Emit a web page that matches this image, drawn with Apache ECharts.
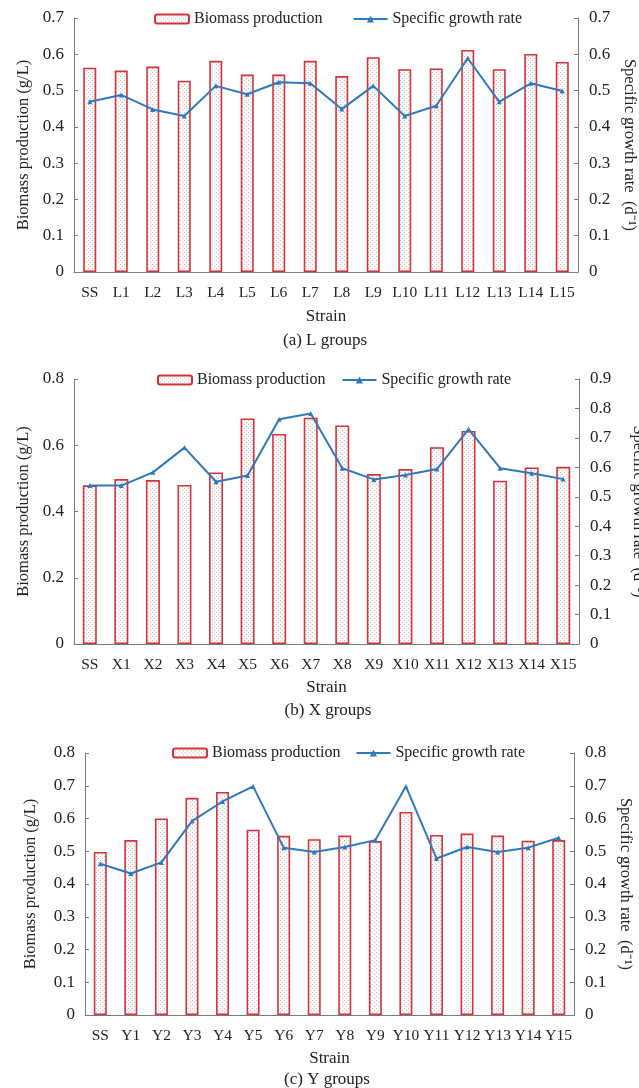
<!DOCTYPE html>
<html>
<head>
<meta charset="utf-8">
<script src="https://cdn.jsdelivr.net/npm/echarts@6/dist/echarts.min.js"></script>
<style>
html,body{margin:0;padding:0;background:#fff;}
#main{width:639px;height:1088px;}
</style>
</head>
<body>
<div id="main"></div>
<script>
const catsA = ['SS','L1','L2','L3','L4','L5','L6','L7','L8','L9','L10','L11','L12','L13','L14','L15'];
const catsB = ['SS','X1','X2','X3','X4','X5','X6','X7','X8','X9','X10','X11','X12','X13','X14','X15'];
const catsC = ['SS','Y1','Y2','Y3','Y4','Y5','Y6','Y7','Y8','Y9','Y10','Y11','Y12','Y13','Y14','Y15'];

const bioA = [0.563,0.555,0.566,0.527,0.582,0.544,0.544,0.582,0.540,0.592,0.559,0.561,0.612,0.559,0.601,0.579];
const rateA = [0.469,0.488,0.448,0.430,0.513,0.490,0.523,0.520,0.449,0.513,0.430,0.458,0.589,0.469,0.520,0.499];
const bioB = [0.479,0.498,0.495,0.480,0.518,0.681,0.634,0.683,0.660,0.513,0.528,0.594,0.643,0.493,0.533,0.535];
const rateB = [0.538,0.538,0.583,0.667,0.551,0.572,0.763,0.783,0.597,0.559,0.574,0.594,0.730,0.597,0.580,0.560];
const bioC = [0.498,0.534,0.600,0.663,0.681,0.566,0.547,0.537,0.548,0.531,0.620,0.550,0.554,0.548,0.532,0.534];
const rateC = [0.462,0.432,0.466,0.592,0.652,0.698,0.511,0.498,0.513,0.534,0.698,0.478,0.513,0.498,0.511,0.541];

const leftMax = [0.7, 0.8, 0.8];
const leftInterval = [0.1, 0.2, 0.1];
const rightMax = [0.7, 0.9, 0.8];
const rightInterval = [0.1, 0.1, 0.1];
const captions = ['(a) L groups', '(b) X groups', '(c) Y groups'];
const bioName = 'Biomass production';
const rateName = 'Specific growth rate';
const leftAxisName = 'Biomass production (g/L)';
const rightAxisName = 'Specific growth rate\u2002(d\u207B\u00B9)';
const xAxisName = 'Strain';

const FONT = '"Liberation Serif", "Times New Roman", serif';
const AX = '#7a7a7a';
const TXT = '#222';
const RED = '#d2343b';
const BLUE = '#3078bb';

function makePattern(){
  const c = document.createElement('canvas');
  c.width = 4; c.height = 4;
  const g = c.getContext('2d');
  g.fillStyle = '#fdf9f9'; g.fillRect(0,0,4,4);
  g.fillStyle = '#c4c4c4';
  g.fillRect(0,0,1,1); g.fillRect(2,2,1,1);
  return c;
}
const pattern = {image: makePattern(), repeat: 'repeat'};

const panels = [
  {cats: catsA, bio: bioA, rate: rateA, grid: {left:74, right:61, top:18, height:254}, barW:13, legendLeft:154, legendTop:11, legendGap:30, lname:38, rname:42, cap:[325,341], xgap:36},
  {cats: catsB, bio: bioB, rate: rateB, grid: {left:74, right:60, top:379, height:265}, barW:14, legendLeft:157, legendTop:372, legendGap:16, lname:38, rname:51, cap:[328,711], xgap:35},
  {cats: catsC, bio: bioC, rate: rateC, grid: {left:85, right:65, top:753, height:262}, barW:13, legendLeft:172, legendTop:745, legendGap:15, lname:46, rname:43, cap:[327,1080], xgap:35}
];

const grids=[], xAxes=[], yAxes=[], series=[], legends=[], graphics=[];
panels.forEach((p,i)=>{
  grids.push(Object.assign({containLabel:false, outerBoundsMode:'none'}, p.grid));
  xAxes.push({
    type:'category', gridIndex:i, data:p.cats, boundaryGap:true,
    name:xAxisName, nameLocation:'middle', nameGap:p.xgap,
    nameTextStyle:{fontFamily:FONT, fontSize:17, color:TXT},
    axisLine:{lineStyle:{color:AX, width:1}},
    axisTick:{inside:true, length:4, lineStyle:{color:AX}},
    axisLabel:{fontFamily:FONT, fontSize:15.5, color:TXT, margin:13, interval:0},
    splitLine:{show:false}
  });
  yAxes.push({
    type:'value', gridIndex:i, position:'left', min:0, max:leftMax[i], interval:leftInterval[i],
    name:leftAxisName, nameLocation:'middle', nameGap:p.lname,
    nameTextStyle:{fontFamily:FONT, fontSize:16.5, color:TXT},
    axisLine:{show:true, lineStyle:{color:AX, width:1}},
    axisTick:{show:true, inside:true, length:4, lineStyle:{color:AX}},
    axisLabel:{fontFamily:FONT, fontSize:17, color:TXT, margin:10},
    splitLine:{show:false}
  });
  yAxes.push({
    type:'value', gridIndex:i, position:'right', min:0, max:rightMax[i], interval:rightInterval[i],
    name:rightAxisName, nameLocation:'middle', nameGap:p.rname, nameRotate:-90,
    nameTextStyle:{fontFamily:FONT, fontSize:16.5, color:TXT},
    axisLine:{show:true, lineStyle:{color:AX, width:1}},
    axisTick:{show:true, inside:true, length:4, lineStyle:{color:AX}},
    axisLabel:{fontFamily:FONT, fontSize:17, color:TXT, margin:11},
    splitLine:{show:false}
  });
  series.push({
    name:bioName, type:'bar', xAxisIndex:i, yAxisIndex:2*i, data:p.bio, barWidth:p.barW,
    itemStyle:{color:pattern, borderColor:RED, borderWidth:1.6},
    silent:true, animation:false
  });
  series.push({
    name:rateName, type:'line', xAxisIndex:i, yAxisIndex:2*i+1, data:p.rate,
    symbol:'triangle', symbolSize:5, showSymbol:true,
    lineStyle:{color:BLUE, width:2}, itemStyle:{color:BLUE},
    silent:true, animation:false
  });
  legends.push({
    left:p.legendLeft, top:p.legendTop, orient:'horizontal', padding:0,
    data:[bioName, rateName], itemWidth:34, itemHeight:9, itemGap:p.legendGap,
    textStyle:{fontFamily:FONT, fontSize:16, color:TXT}, selectedMode:false
  });
  graphics.push({
    type:'text', x:p.cap[0], y:p.cap[1],
    style:{text:captions[i], fontFamily:FONT, fontSize:17, fill:TXT, textAlign:'center', textVerticalAlign:'middle'}
  });
});

const chart = echarts.init(document.getElementById('main'), null, {renderer:'canvas'});
chart.setOption({
  animation:false,
  backgroundColor:'#fff',
  grid:grids, xAxis:xAxes, yAxis:yAxes, series:series, legend:legends, graphic:graphics
});
</script>
</body>
</html>
